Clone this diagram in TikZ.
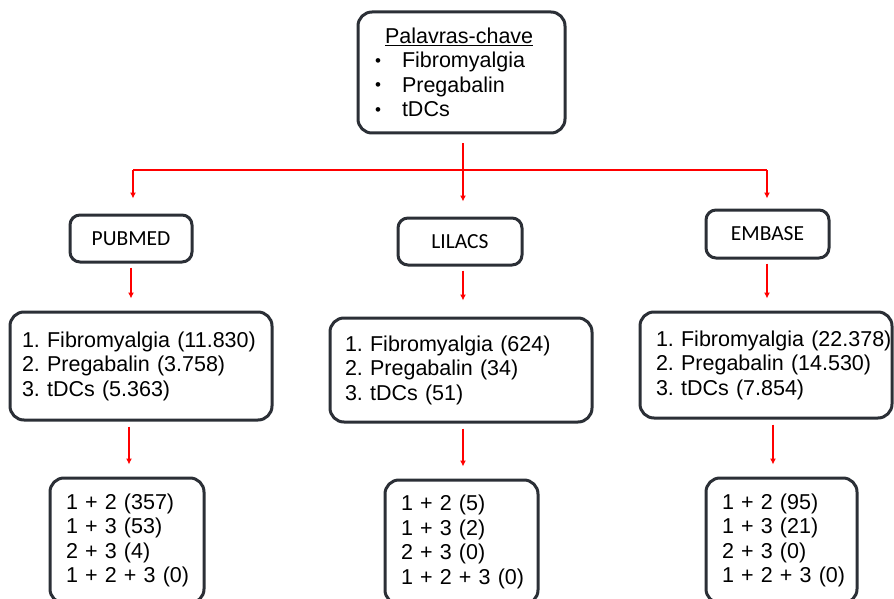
\documentclass[tikz,border=0pt]{standalone}
\usepackage{fontspec}
\setmainfont{Liberation Sans}
\newfontfamily\dbfont{Carlito}
\usetikzlibrary{arrows.meta}
\definecolor{boxline}{HTML}{2B2F36}
\frenchspacing
\newcommand{\mybul}{\makebox[27pt][l]{\fontsize{17}{17}\selectfont\raisebox{1.5pt}{•}}}
\tikzset{
  box/.style={draw=boxline, line width=3pt, rounded corners=14pt, fill=white,
    align=left, inner ysep=0pt, font=\fontsize{21.5}{24.5}\selectfont},
  dbbox/.style={draw=boxline, line width=3pt, rounded corners=10pt, fill=white,
    align=center, inner sep=0pt, font=\dbfont\fontsize{21.5}{24}\selectfont},
  arr/.style={draw=red, line width=1.4pt, -{Latex[length=6pt,width=6pt]}},
  redline/.style={draw=red, line width=1.4pt},
}
\begin{document}
\begin{tikzpicture}[x=1pt,y=-1pt]
\useasboundingbox (0,0) rectangle (894,599);
\begin{scope}
\clip (0,0) rectangle (894,599);
% top
\node[box, inner xsep=17pt, text width=173pt, minimum height=121pt] (top) at (461.5,72.5)
 {\hspace*{10pt}\underline{Palavras-chave}\\
  \mybul Fibromyalgia\\
  \mybul Pregabalin\\
  \mybul tDCs};
% databases
\node[dbbox, minimum width=122pt, minimum height=47pt] (pub) at (131,238.5) {PUBMED};
\node[dbbox, minimum width=124pt, minimum height=47pt] (lil) at (460,241.5) {LILACS};
\node[dbbox, minimum width=123pt, minimum height=48pt] (emb) at (767.5,234) {EMBASE};
% middle lists
\node[box, inner xsep=12pt, text width=238pt, minimum height=108pt] (publ) at (141,366)
 {\mbox{1. Fibromyalgia (11.830)}\\\mbox{2. Pregabalin (3.758)}\\\mbox{3. tDCs (5.363)}};
\node[box, inner xsep=15pt, text width=232pt, minimum height=104pt] (lill) at (461,370)
 {\mbox{1. Fibromyalgia (624)}\\\mbox{2. Pregabalin (34)}\\\mbox{3. tDCs (51)}};
\node[box, inner xsep=16pt, text width=220pt, minimum height=106pt] (embl) at (766,365)
 {\mbox{1. Fibromyalgia (22.378)}\\\mbox{2. Pregabalin (14.530)}\\\mbox{3. tDCs (7.854)}};
% bottom
\node[box, inner xsep=16pt, text width=122pt, minimum height=125pt] (pubc) at (127,540.5)
 {\mbox{1 + 2 (357)}\\\mbox{1 + 3 (53)}\\\mbox{2 + 3 (4)}\\\mbox{1 + 2 + 3 (0)}};
\node[box, inner xsep=16pt, text width=121pt, minimum height=124pt] (lilc) at (461.5,542)
 {\mbox{1 + 2 (5)}\\\mbox{1 + 3 (2)}\\\mbox{2 + 3 (0)}\\\mbox{1 + 2 + 3 (0)}};
\node[box, inner xsep=16pt, text width=119pt, minimum height=125pt] (embc) at (781.5,540.5)
 {\mbox{1 + 2 (95)}\\\mbox{1 + 3 (21)}\\\mbox{2 + 3 (0)}\\\mbox{1 + 2 + 3 (0)}};
\end{scope}
% connectors
\coordinate (hl) at (133,170);
\coordinate (hc) at (463,170);
\coordinate (hr) at (767,170);
\coordinate (xp) at (131,0);
\coordinate (xe) at (767,0);
\draw[redline] (hl) -- (hr);
\draw[arr, shorten <=9pt, shorten >=15pt] (top.south -| hc) -- (hc |- lil.north);
\draw[arr, shorten >=15pt] (hl) -- (hl |- pub.north);
\draw[arr, shorten >=10pt] (hr) -- (hr |- emb.north);
\draw[arr, shorten <=4pt, shorten >=12pt] (pub.south -| xp) -- (xp |- publ.north);
\draw[arr, shorten <=4pt, shorten >=16pt] (lil.south -| hc) -- (hc |- lill.north);
\draw[arr, shorten <=4pt, shorten >=12pt] (emb.south -| xe) -- (xe |- embl.north);
\draw[arr, shorten <=5pt, shorten >=12pt] (publ.south -| 129,0) -- (129,0 |- pubc.north);
\draw[arr, shorten <=5pt, shorten >=12pt] (lill.south -| hc) -- (hc |- lilc.north);
\draw[arr, shorten <=5pt, shorten >=12pt] (embl.south -| 773,0) -- (773,0 |- embc.north);
\end{tikzpicture}
\end{document}
